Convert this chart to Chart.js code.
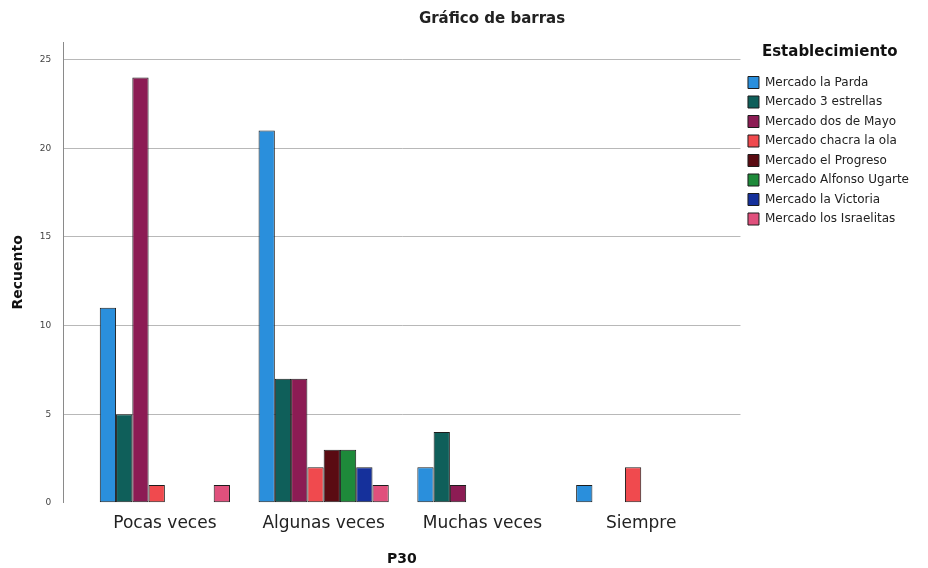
<!DOCTYPE html>
<html>
<head>
<meta charset="utf-8">
<script src="https://cdn.jsdelivr.net/npm/chart.js@4"></script>
<style>
  body { margin: 0; background: #fff; }
  #wrap { position: relative; width: 928px; height: 568px; }
  #title {
    position: absolute; top: 9px; left: 492px; transform: translateX(-50%);
    font: bold 15px 'DejaVu Sans', sans-serif; color: #222; white-space: nowrap;
  }
</style>
</head>
<body>
<div id="wrap">
  <div id="title">Gráfico de barras</div>
  <canvas id="myChart" width="928" height="568"></canvas>
</div>
<script>
// categorias de P30 y recuentos por establecimiento
const categories = ['Pocas veces', 'Algunas veces', 'Muchas veces', 'Siempre'];
const laParda = [11, 21, 2, 1];
const tresEstrellas = [5, 7, 4, 0];
const dosDeMayo = [24, 7, 1, 0];
const chacraLaOla = [1, 2, 0, 2];
const elProgreso = [0, 3, 0, 0];
const alfonsoUgarte = [0, 3, 0, 0];
const laVictoria = [0, 2, 0, 0];
const losIsraelitas = [1, 1, 0, 0];
const yTicks = [0, 5, 10, 15, 20, 25];

const series = [
  { label: 'Mercado la Parda', data: laParda, color: '#2a8fdc' },
  { label: 'Mercado 3 estrellas', data: tresEstrellas, color: '#0f5f5a' },
  { label: 'Mercado dos de Mayo', data: dosDeMayo, color: '#8c1c54' },
  { label: 'Mercado chacra la ola', data: chacraLaOla, color: '#f04a4e' },
  { label: 'Mercado el Progreso', data: elProgreso, color: '#5a0b12' },
  { label: 'Mercado Alfonso Ugarte', data: alfonsoUgarte, color: '#1e8a3a' },
  { label: 'Mercado la Victoria', data: laVictoria, color: '#15309b' },
  { label: 'Mercado los Israelitas', data: losIsraelitas, color: '#e0507c' },
];

const ctx = document.getElementById('myChart');

new Chart(ctx, {
  type: 'bar',
  data: {
    datasets: series.map((s) => ({
      label: s.label,
      data: s.data.map((v, i) => ({ x: i, y: v })),
      backgroundColor: s.color,
      borderColor: '#1d1d1d',
      borderWidth: 1,
      borderSkipped: false,
    })),
  },
  options: {
    responsive: false,
    animation: false,
    datasets: {
      bar: { categoryPercentage: 0.82, barPercentage: 1 },
    },
    layout: { padding: { top: 42, right: 9, left: 0, bottom: 0 } },
    plugins: {
      tooltip: { enabled: false },
      legend: {
        position: 'right',
        align: 'start',
        title: {
          display: true,
          text: 'Establecimiento',
          position: 'center',
          color: '#111',
          font: { family: 'DejaVu Sans', size: 15, weight: 'bold' },
          padding: { top: 3, bottom: 6 },
        },
        labels: {
          boxWidth: 11,
          boxHeight: 12,
          padding: 7.5,
          color: '#222',
          font: { family: 'DejaVu Sans', size: 12 },
        },
      },
    },
    scales: {
      x: {
        type: 'linear',
        offset: false,
        min: -0.64,
        max: 3.625,
        afterBuildTicks: (scale) => {
          scale.ticks = categories.map((c, i) => ({ value: i }));
        },
        ticks: {
          autoSkip: false,
          maxRotation: 0,
          padding: 11,
          color: '#222',
          font: { family: 'DejaVu Sans', size: 17 },
          callback: (value) => categories[value],
        },
        grid: { display: false, drawTicks: false },
        border: { display: false },
        title: {
          display: true,
          text: 'P30',
          color: '#111',
          font: { family: 'DejaVu Sans', size: 14, weight: 'bold' },
          padding: { top: 6, bottom: 0 },
        },
      },
      y: {
        min: 0,
        max: 26,
        afterBuildTicks: (scale) => {
          scale.ticks = yTicks.map((v) => ({ value: v }));
        },
        ticks: {
          padding: 12,
          color: '#444',
          font: { family: 'DejaVu Sans', size: 9 },
        },
        grid: {
          drawTicks: false,
          color: (c) => (c.tick && c.tick.value === 0 ? 'rgba(0,0,0,0)' : '#b8b8b8'),
        },
        border: { display: true, color: '#8a8a8a' },
        title: {
          display: true,
          text: 'Recuento',
          color: '#111',
          font: { family: 'DejaVu Sans', size: 14, weight: 'bold' },
          padding: { top: 10, bottom: 1 },
        },
      },
    },
  },
});
</script>
</body>
</html>
